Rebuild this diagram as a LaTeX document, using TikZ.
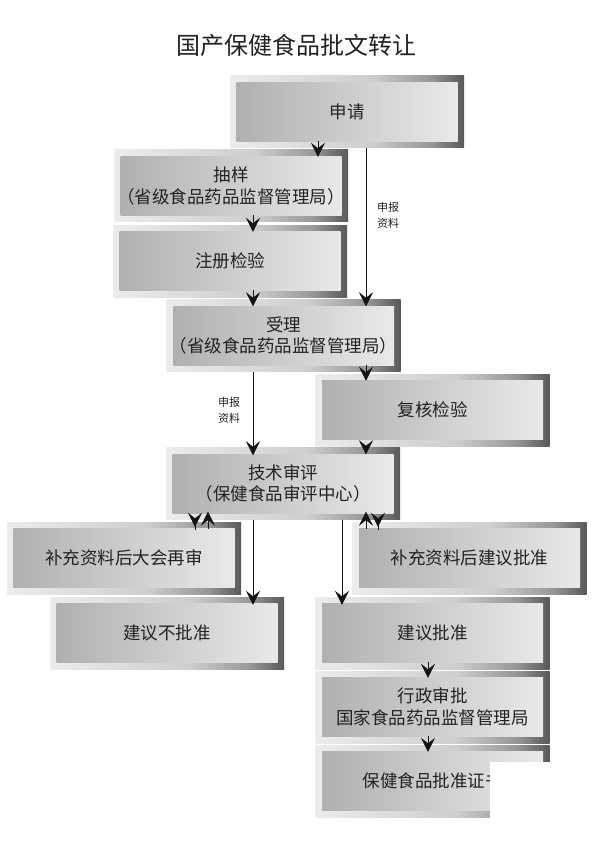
\documentclass[tikz,border=0pt]{standalone}
\usepackage{fontspec}
\usepackage{xcolor}
\usepackage{tikz}
\usetikzlibrary{arrows.meta,positioning,calc}
\newfontfamily\cjk{Noto Sans CJK SC}
\definecolor{framelight}{RGB}{236,236,236}
\definecolor{framemid}{RGB}{206,206,206}
\definecolor{framedeep}{RGB}{150,150,150}
\definecolor{framedark}{RGB}{88,88,88}
\definecolor{facedark}{RGB}{176,176,176}
\definecolor{facelight}{RGB}{233,233,233}
\definecolor{inkgray}{RGB}{34,34,34}
\definecolor{wiregray}{RGB}{20,20,20}
\pgfdeclarehorizontalshading{bevel}{100bp}{color(0bp)=(framelight); color(25bp)=(framelight); color(55bp)=(framemid); color(68bp)=(framedeep); color(75bp)=(framedark); color(100bp)=(framedark)}

\begin{document}
\begin{tikzpicture}[x=1pt, y=-1pt,
  box/.style={rectangle, fill=framelight, minimum width=234pt, minimum height=72pt, inner sep=0pt, align=center, text=inkgray, font=\cjk\fontsize{17.5pt}{21.5pt}\selectfont,
    path picture={
      \shade[shading=bevel] (path picture bounding box.south west) rectangle (path picture bounding box.north east);
      \shade[left color=facedark, right color=facelight] ([shift={(6.5pt,6.5pt)}]path picture bounding box.south west) rectangle ([shift={(-6.5pt,-6.5pt)}]path picture bounding box.north east);
    }},
  note/.style={inner sep=0pt, align=left, text=inkgray, font=\cjk\fontsize{11pt}{16pt}\selectfont},
  heading/.style={inner sep=0pt, text=inkgray, font=\cjk\fontsize{24pt}{28pt}\selectfont},
  line/.style={draw=wiregray, -{Stealth[length=14pt, width=14pt, inset=5.5pt, line width=0.6pt]}, line width=0.9pt},
  hop/.style={line, shorten <=-7pt, shorten >=-7pt}
]
  \useasboundingbox (0,0) rectangle (595,842);

  % Title
  \node [heading] (title) at (296,45) {国产保健食品批文转让};

  % Provincial stage
  \node [box] (shenqing) at (347,112) {申请};
  \node [box] (chouyang) at (231,186) {抽样\\（省级食品药品监督管理局）};
  \node [box] (zhuce) at (230,261) {注册检验};
  \node [box] (shouli) at (283.5,335.5) {受理\\（省级食品药品监督管理局）};
  \node [box] (fuhe) at (432.5,410) {复核检验};

  % Review stage
  \node [box] (jishu) at (283,483.5) {技术审评\\（保健食品审评中心）};
  \node [box] (buchong1) at (124,558) {补充资料后大会再审};
  \node [box] (buchong2) at (469.5,558) {补充资料后建议批准};
  \node [box] (bupizhun) at (167,633) {建议不批准};
  \node [box] (pizhun) at (432.5,633) {建议批准};
  \node [box] (xingzheng) at (432.5,707) {行政审批\\国家食品药品监督管理局};
  \node [box] (zhengshu) at (432.5,781) {保健食品批准证书};
  \fill [white] (490,762) rectangle (595,819);

  % Side labels
  \node [note] (note1) at (388,215) {申报\\资料};
  \node [note] (note2) at (229,410) {申报\\资料};

  % Flow Connections
  \draw [hop] ([xshift=-29pt]shenqing.south) -- ([xshift=-29pt]shenqing.south |- chouyang.north);
  \draw [hop] ([xshift=22pt]chouyang.south) -- ([xshift=22pt]chouyang.south |- zhuce.north);
  \draw [line, shorten >=-7pt] ([xshift=19pt]shenqing.south) -- ([xshift=19pt]shenqing.south |- shouli.north);
  \draw [hop] ([xshift=23pt]zhuce.south) -- ([xshift=23pt]zhuce.south |- shouli.north);
  \draw [hop] ([xshift=82.5pt]shouli.south) -- ([xshift=82.5pt]shouli.south |- fuhe.north);
  \draw [line, shorten >=-8pt] ([xshift=-30.5pt]shouli.south) -- ([xshift=-30.5pt]shouli.south |- jishu.north);
  \draw [hop] ([xshift=-66.5pt]fuhe.south) -- ([xshift=-66.5pt]fuhe.south |- jishu.north);

  % Review loops
  \draw [line, shorten <=-10pt, shorten >=-5pt] ([xshift=-88pt]jishu.south) -- ([xshift=-88pt]jishu.south |- buchong1.north);
  \draw [line, shorten <=-7pt, shorten >=-8pt] ([xshift=84pt]buchong1.north) -- ([xshift=84pt]buchong1.north |- jishu.south);
  \draw [line, shorten <=-7pt, shorten >=-8pt] ([xshift=-103.5pt]buchong2.north) -- ([xshift=-103.5pt]buchong2.north |- jishu.south);
  \draw [line, shorten <=-10pt, shorten >=-5pt] ([xshift=95pt]jishu.south) -- ([xshift=95pt]jishu.south |- buchong2.north);

  % Decisions
  \draw [line, shorten >=-8pt] ([xshift=-30pt]jishu.south) -- ([xshift=-30pt]jishu.south |- bupizhun.north);
  \draw [line, shorten >=-8pt] ([xshift=59pt]jishu.south) -- ([xshift=59pt]jishu.south |- pizhun.north);
  \draw [hop] ([xshift=-4.5pt]pizhun.south) -- ([xshift=-4.5pt]pizhun.south |- xingzheng.north);
  \draw [hop] ([xshift=-4.5pt]xingzheng.south) -- ([xshift=-4.5pt]xingzheng.south |- zhengshu.north);

\end{tikzpicture}
\end{document}
